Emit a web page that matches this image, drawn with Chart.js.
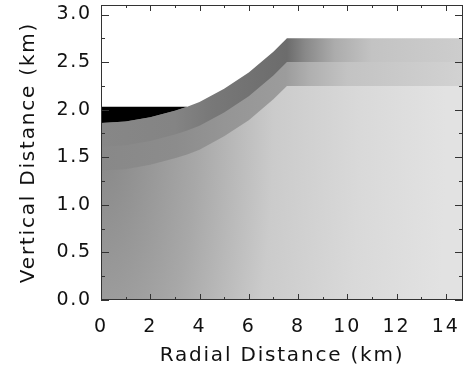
<!DOCTYPE html>
<html>
<head>
<meta charset="utf-8">
<script src="https://cdn.jsdelivr.net/npm/chart.js@4.4.1/dist/chart.umd.min.js"></script>
<style>
  html, body { margin: 0; padding: 0; background: #fff; }
  #wrap { width: 464px; height: 372px; }
</style>
</head>
<body>
<div id="wrap"><canvas id="c"></canvas></div>
<script>
const radialKm = [0, 1, 2, 3, 3.5, 4, 5, 6, 7, 7.55, 14.7];
// top of the black cap (flat at ~2.03 km until it meets the surface)
const capTop = [2.03, 2.03, 2.03, 2.03, 2.03, 2.08, 2.22, 2.39, 2.61, 2.75, 2.75];
// free surface
const surface = [1.86, 1.875, 1.92, 1.99, 2.03, 2.08, 2.22, 2.39, 2.61, 2.75, 2.75];
// base of the dark first layer
const layer1Base = [1.61, 1.625, 1.67, 1.74, 1.78, 1.83, 1.97, 2.14, 2.36, 2.50, 2.50];
// base of the second layer
const layer2Base = [1.36, 1.375, 1.42, 1.49, 1.53, 1.58, 1.72, 1.89, 2.11, 2.25, 2.25];

// axis ticks
const xTicks = [0, 2, 4, 6, 8, 10, 12, 14];
const xMinor = [1, 3, 5, 7, 9, 11, 13];
const yTicks = [0, 0.5, 1, 1.5, 2, 2.5, 3];
const yMinor = [0.25, 0.75, 1.25, 1.75, 2.25, 2.75];

const X_MAX = 14.7;
const Y_MAX = 3.1;

const pts = ys => radialKm.map((x, i) => ({ x, y: ys[i] }));

// horizontal grey ramp, stops given in km
function xRamp(stops) {
  return c => {
    const chart = c.chart;
    if (!chart.chartArea) return stops[0][1];
    const sx = chart.scales.x;
    const g = chart.ctx.createLinearGradient(sx.getPixelForValue(0), 0, sx.getPixelForValue(X_MAX), 0);
    stops.forEach(([v, col]) => g.addColorStop(Math.min(1, v / X_MAX), col));
    return g;
  };
}

// elliptical glow for the half-space, darkest under the cap
function baseFill(c) {
  const chart = c.chart;
  if (!chart.chartArea) return '#b0b0b0';
  const off = document.createElement('canvas');
  off.width = chart.width;
  off.height = chart.height;
  const g = off.getContext('2d');
  const cx = chart.scales.x.getPixelForValue(0);
  const cy = chart.scales.y.getPixelForValue(1.9);
  const rx = 345, ry = 1000;
  g.translate(cx, cy);
  g.scale(1, ry / rx);
  const grad = g.createRadialGradient(0, 0, 0, 0, 0, rx);
  grad.addColorStop(0, '#858585');
  grad.addColorStop(0.28, '#a8a8a8');
  grad.addColorStop(0.5, '#cbcbcb');
  grad.addColorStop(0.75, '#d9d9d9');
  grad.addColorStop(1, '#e2e2e2');
  g.fillStyle = grad;
  g.fillRect(-3000, -3000, 6000, 6000);
  return chart.ctx.createPattern(off, 'no-repeat');
}

// box with inward ticks on all four sides
const frame = {
  id: 'frame',
  beforeDraw(chart) {
    chart.ctx.letterSpacing = '1.8px';
  },
  afterDraw(chart) {
    const { ctx, chartArea: a, scales: { x, y } } = chart;
    ctx.save();
    ctx.strokeStyle = '#333';
    ctx.lineWidth = 1;
    ctx.strokeRect(a.left + 0.5, a.top + 0.5, a.right - a.left - 1, a.bottom - a.top - 1);
    ctx.beginPath();
    const xt = (v, len) => {
      const px = Math.round(x.getPixelForValue(v)) + 0.5;
      ctx.moveTo(px, a.bottom); ctx.lineTo(px, a.bottom - len);
      ctx.moveTo(px, a.top); ctx.lineTo(px, a.top + len);
    };
    const yt = (v, len) => {
      const py = Math.round(y.getPixelForValue(v)) + 0.5;
      ctx.moveTo(a.left, py); ctx.lineTo(a.left + len, py);
      ctx.moveTo(a.right, py); ctx.lineTo(a.right - len, py);
    };
    xTicks.forEach(v => xt(v, 6));
    xMinor.forEach(v => xt(v, 3));
    yTicks.forEach(v => yt(v, 8));
    yMinor.forEach(v => yt(v, 4));
    ctx.stroke();
    ctx.restore();
  }
};

const ink = '#111';
const font = { family: 'DejaVu Sans', size: 19 };

// fills are painted from the last dataset to the first, so each layer
// is laid down to the axis and the next one covers its lower part
new Chart(document.getElementById('c'), {
  type: 'line',
  data: {
    datasets: [
      { data: pts(capTop), fill: 3, backgroundColor: '#000' },
      { data: pts(layer2Base), fill: 'origin', backgroundColor: baseFill },
      { data: pts(layer1Base), fill: 'origin',
        backgroundColor: xRamp([[0, '#888888'], [3, '#8c8c8c'], [5, '#959595'], [7.5, '#9c9c9c'], [8.5, '#b0b0b0'], [10, '#c3c3c3'], [14.7, '#d2d2d2']]) },
      { data: pts(surface), fill: 'origin',
        backgroundColor: xRamp([[0, '#878787'], [3, '#848484'], [4.5, '#787878'], [7.55, '#6c6c6c'], [8.3, '#898989'], [9.5, '#acacac'], [11, '#c3c3c3'], [14.7, '#cdcdcd']]) }
    ]
  },
  options: {
    responsive: true,
    maintainAspectRatio: false,
    animation: false,
    layout: { padding: { top: 5, right: 1, left: 0, bottom: 0 } },
    elements: {
      line: { borderWidth: 0, tension: 0 },
      point: { radius: 0 }
    },
    plugins: {
      legend: { display: false },
      tooltip: { enabled: false }
    },
    scales: {
      x: {
        type: 'linear',
        min: 0,
        max: X_MAX,
        afterFit: s => { s.height = 72; s.paddingLeft = 0; s.paddingRight = 0; },
        afterBuildTicks: s => { s.ticks = xTicks.map(value => ({ value })); },
        grid: { display: false, drawTicks: false },
        border: { display: false },
        ticks: { padding: 16, color: ink, font, maxRotation: 0, autoSkip: false },
        title: {
          display: true,
          text: 'Radial Distance (km)',
          color: ink,
          font: { family: 'DejaVu Sans', size: 20 },
          padding: { top: 0, bottom: 4 }
        }
      },
      y: {
        type: 'linear',
        min: 0,
        max: Y_MAX,
        afterFit: s => { s.width = 101; s.paddingTop = 0; s.paddingBottom = 0; },
        afterBuildTicks: s => { s.ticks = yTicks.map(value => ({ value })); },
        grid: { display: false, drawTicks: false },
        border: { display: false },
        ticks: { padding: 9, color: ink, font, callback: v => v.toFixed(1) },
        title: {
          display: true,
          text: 'Vertical Distance (km)',
          color: ink,
          font: { family: 'DejaVu Sans', size: 20 },
          padding: { top: 17, bottom: 0 }
        }
      }
    }
  },
  plugins: [frame]
});
</script>
</body>
</html>
